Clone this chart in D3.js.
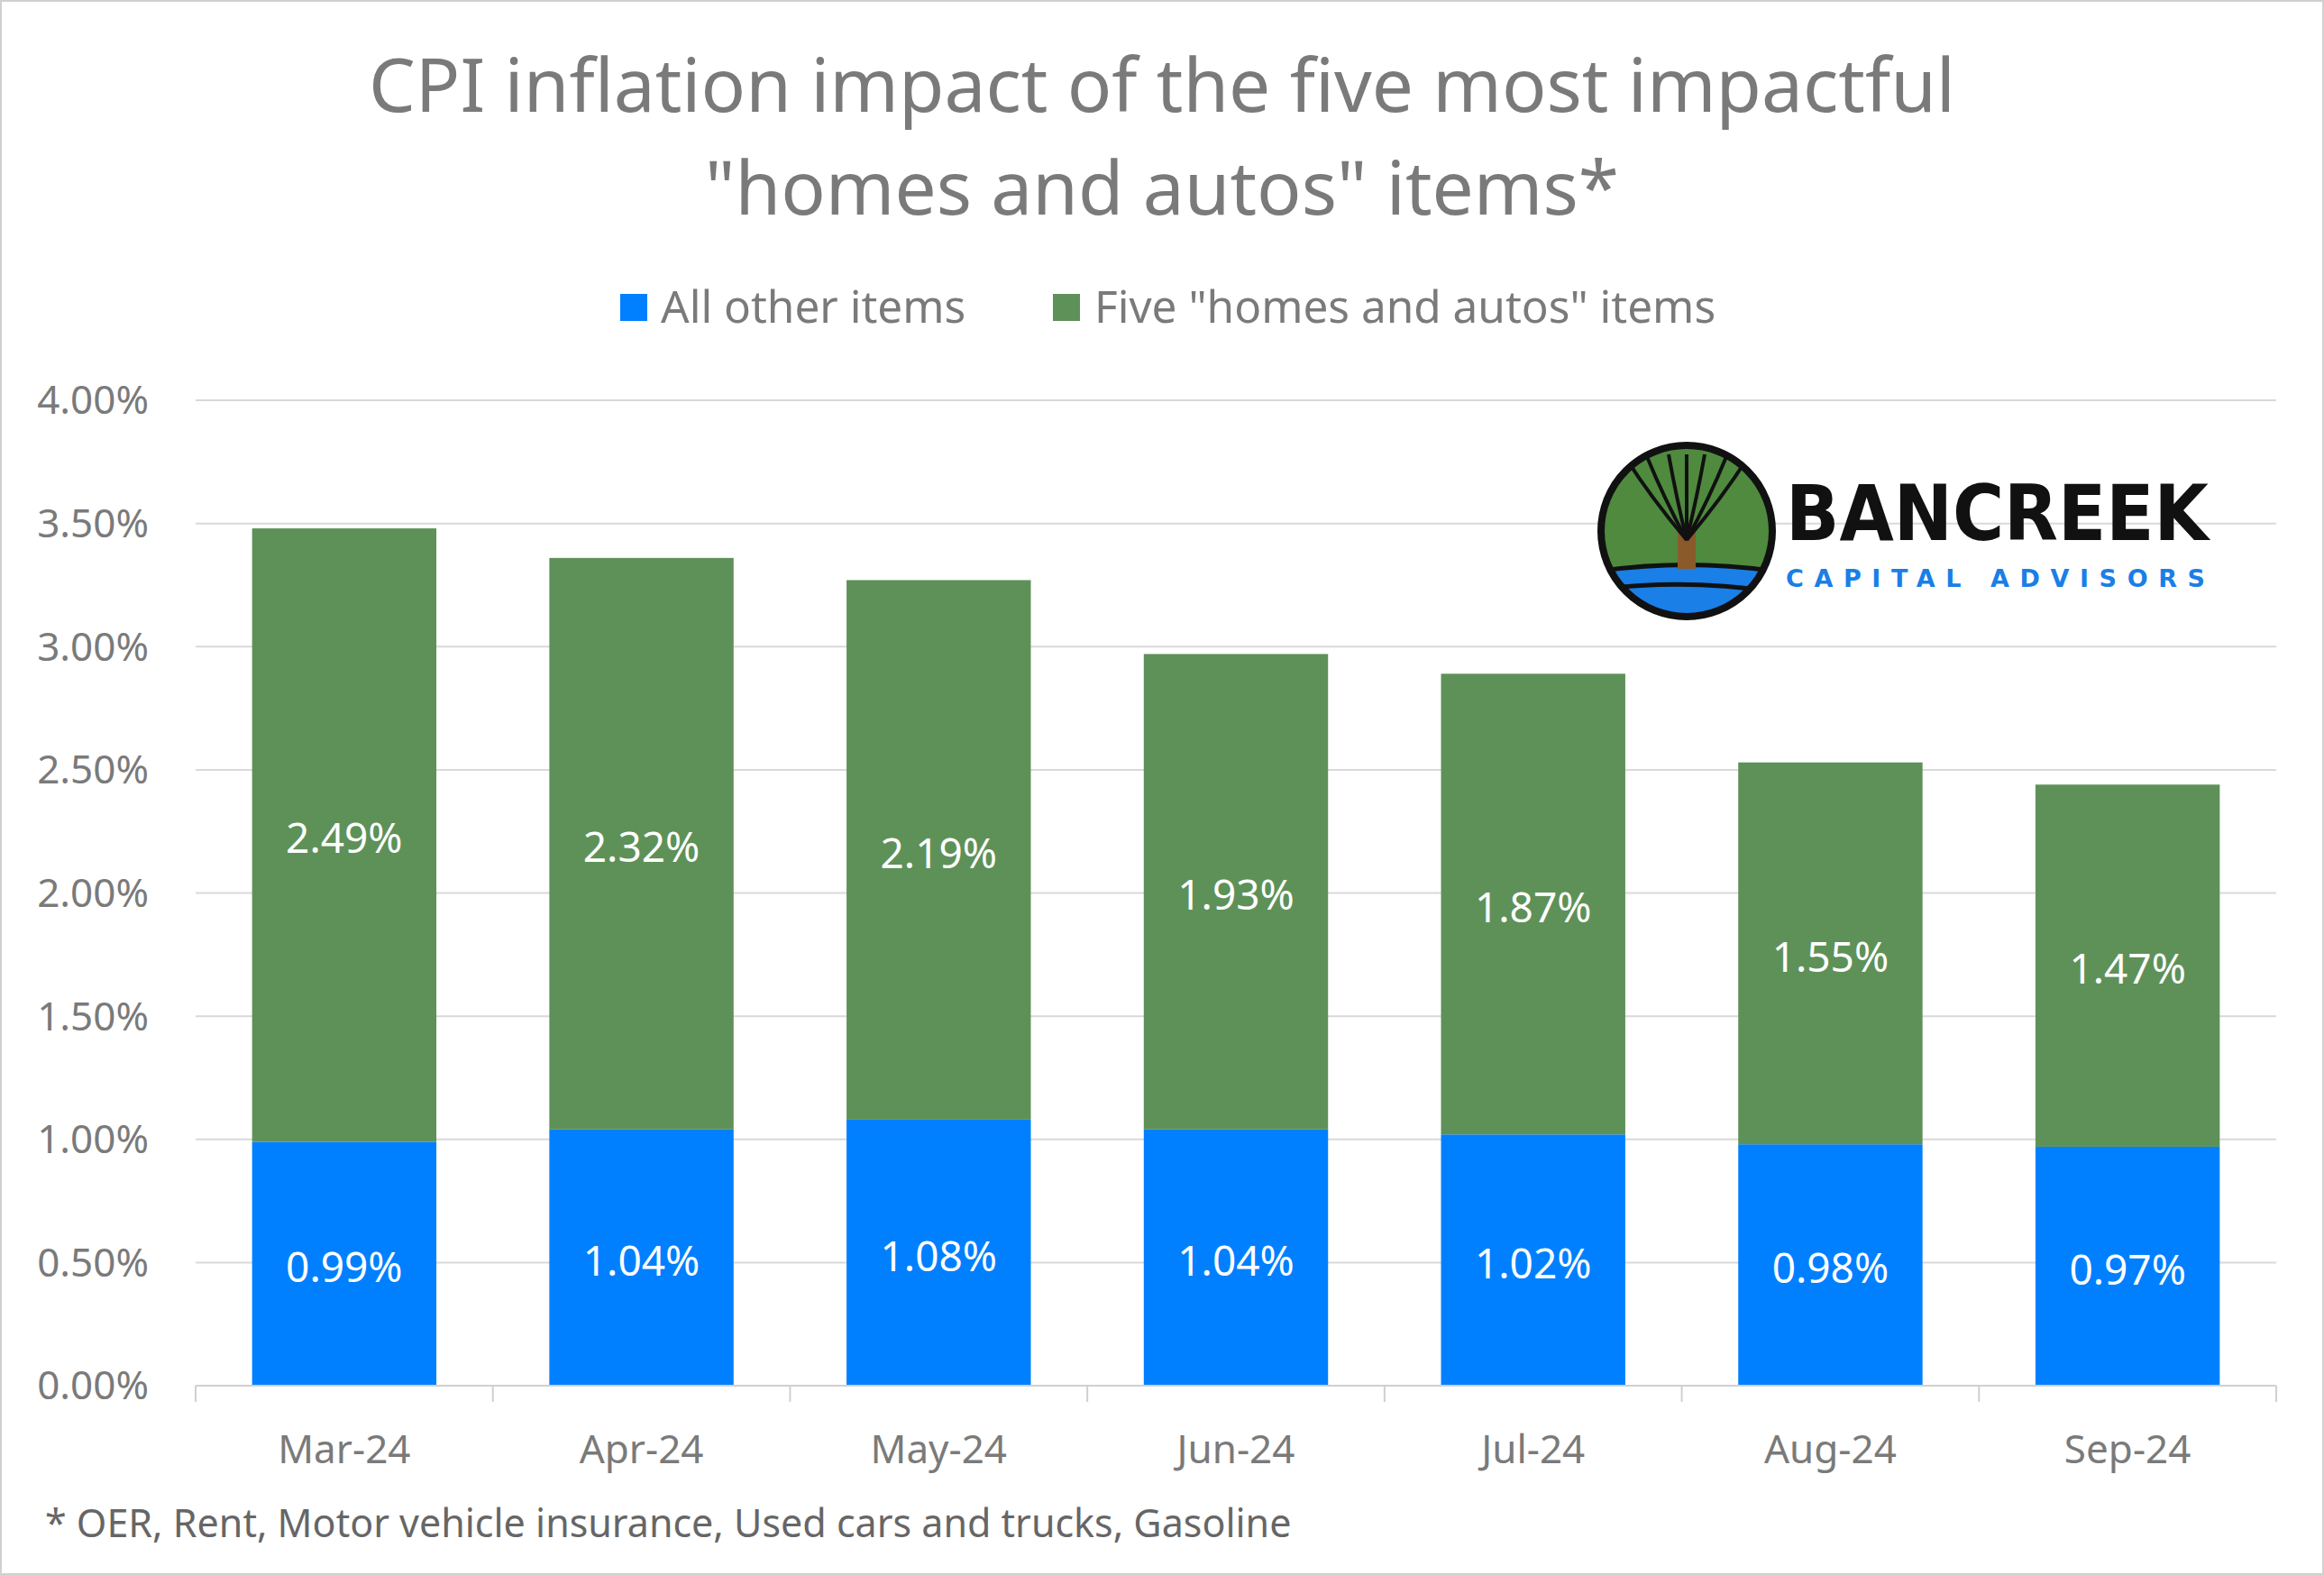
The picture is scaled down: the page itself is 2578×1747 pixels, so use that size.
<!DOCTYPE html>
<html><head><meta charset="utf-8">
<script src="https://cdn.jsdelivr.net/npm/d3@7/dist/d3.min.js"></script>
<style>body{margin:0;background:#fff}svg{display:block}</style></head>
<body><svg id="c" width="2578" height="1747"></svg>
<script>
const categories=["Mar-24","Apr-24","May-24","Jun-24","Jul-24","Aug-24","Sep-24"];
const otherItems=[0.99,1.04,1.08,1.04,1.02,0.98,0.97];
const fiveItems=[2.49,2.32,2.19,1.93,1.87,1.55,1.47];
const yTicks=[0,0.5,1,1.5,2,2.5,3,3.5,4];
const seriesNames=["All other items",'Five "homes and autos" items'];
const colors=["#0080FF","#5E9158"];
const font="'Noto Sans','Open Sans',sans-serif", grey="#7a7a7a";
const svg=d3.select("#c");
svg.append("rect").attr("x",1).attr("y",1).attr("width",2576).attr("height",1745).attr("fill","#fff").attr("stroke","#d0d0d0").attr("stroke-width",2);
const x=d3.scaleBand().domain(categories).range([217,2525]).paddingInner(0.38).paddingOuter(0.19);
const y=d3.scaleLinear().domain([0,4]).range([1537,444]);
const g=svg.append("g").attr("font-family",font);
g.selectAll(".gl").data(yTicks.slice(1)).join("line").attr("x1",217).attr("x2",2525).attr("y1",d=>y(d)).attr("y2",d=>y(d)).attr("stroke","#d9d9d9").attr("stroke-width",2);
g.selectAll(".yt").data(yTicks).join("text").attr("x",165).attr("y",d=>y(d)).attr("dy","0.35em").attr("text-anchor","end").attr("font-size",44).attr("fill",grey).text(d=>d.toFixed(2)+"%");
categories.forEach((c,i)=>{
  const x0=x(c),w=x.bandwidth();
  g.append("rect").attr("x",x0).attr("width",w).attr("y",y(otherItems[i])).attr("height",y(0)-y(otherItems[i])).attr("fill",colors[0]);
  const top=otherItems[i]+fiveItems[i];
  g.append("rect").attr("x",x0).attr("width",w).attr("y",y(top)).attr("height",y(otherItems[i])-y(top)).attr("fill",colors[1]);
  g.append("text").attr("x",x0+w/2).attr("y",y(otherItems[i]/2)+4).attr("dy","0.35em").attr("text-anchor","middle").attr("font-size",46).attr("fill","#fff").text(otherItems[i].toFixed(2)+"%");
  g.append("text").attr("x",x0+w/2).attr("y",y(otherItems[i]+fiveItems[i]/2)+4).attr("dy","0.35em").attr("text-anchor","middle").attr("font-size",46).attr("fill","#fff").text(fiveItems[i].toFixed(2)+"%");
  g.append("text").attr("x",x0+w/2).attr("y",1608).attr("dy","0.35em").attr("text-anchor","middle").attr("font-size",44).attr("fill",grey).text(c);
});
g.append("line").attr("x1",217).attr("x2",2525).attr("y1",1537).attr("y2",1537).attr("stroke","#d0d0d0").attr("stroke-width",2);
const step=(2525-217)/7;
for(let i=0;i<=7;i++) g.append("line").attr("x1",217+i*step).attr("x2",217+i*step).attr("y1",1537).attr("y2",1555).attr("stroke","#d0d0d0").attr("stroke-width",2);
g.append("text").attr("x",1289).attr("y",95).attr("dy","0.35em").attr("text-anchor","middle").attr("font-size",82).attr("fill",grey).text("CPI inflation impact of the five most impactful");
g.append("text").attr("x",1289).attr("y",209).attr("dy","0.35em").attr("text-anchor","middle").attr("font-size",82).attr("fill",grey).text('"homes and autos" items*');
g.append("rect").attr("x",688).attr("y",326).attr("width",30).attr("height",30).attr("fill",colors[0]);
g.append("text").attr("x",733).attr("y",341).attr("dy","0.35em").attr("font-size",49.5).attr("fill",grey).text(seriesNames[0]);
g.append("rect").attr("x",1168).attr("y",326).attr("width",30).attr("height",30).attr("fill",colors[1]);
g.append("text").attr("x",1214).attr("y",341).attr("dy","0.35em").attr("font-size",49.5).attr("fill",grey).text(seriesNames[1]);
g.append("text").attr("x",50).attr("y",1690).attr("dy","0.35em").attr("font-size",43).attr("fill","#666").text("* OER, Rent, Motor vehicle insurance, Used cars and trucks, Gasoline");
const L=svg.append("g").attr("transform","translate(1871,589)");
L.append("clipPath").attr("id","lc").append("circle").attr("r",95);
const lc=L.append("g").attr("clip-path","url(#lc)");
lc.append("rect").attr("x",-100).attr("y",-100).attr("width",200).attr("height",200).attr("fill","#4f8a3f");
lc.append("rect").attr("x",-100).attr("y",40).attr("width",200).attr("height",60).attr("fill","#1a7fe6");
lc.append("path").attr("d","M-100,45 Q0,30 100,45 M-100,65 Q0,52 100,68").attr("stroke","#111").attr("stroke-width",5).attr("fill","none");
lc.append("rect").attr("x",-10).attr("y",0).attr("width",20).attr("height",42).attr("fill","#8b5a2b");
[-70,-45,-20,0,20,45,70].forEach(d=>lc.append("path").attr("d",`M0,10 Q${d*0.6},-40 ${d},-85`).attr("stroke","#111").attr("stroke-width",4).attr("fill","none"));
L.append("circle").attr("r",95).attr("fill","none").attr("stroke","#111").attr("stroke-width",8);
svg.append("text").attr("x",1981).attr("y",569).attr("dy","0.35em").attr("font-family","'DejaVu Sans Condensed','Liberation Sans Narrow',sans-serif").attr("font-weight","bold").attr("font-size",86).attr("textLength",469).attr("lengthAdjust","spacingAndGlyphs").attr("fill","#111").text("BANCREEK");
svg.append("text").attr("x",1981).attr("y",642).attr("dy","0.35em").attr("font-family","'DejaVu Sans',sans-serif").attr("font-weight","bold").attr("font-size",27).attr("textLength",465).attr("lengthAdjust","spacing").attr("fill","#1a7fe6").text("CAPITAL ADVISORS");
</script></body></html>
